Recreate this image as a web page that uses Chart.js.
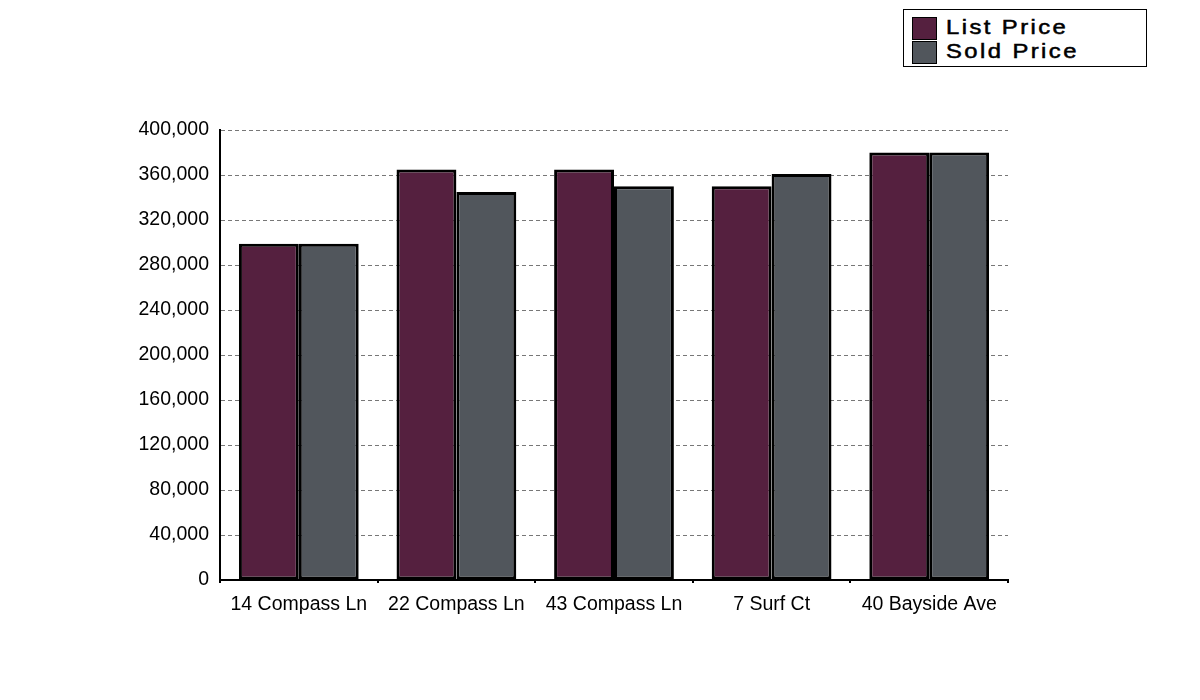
<!DOCTYPE html>
<html>
<head>
<meta charset="utf-8">
<script src="https://cdn.jsdelivr.net/npm/chart.js@4.4.1/dist/chart.umd.min.js"></script>
<style>
    html, body { margin: 0; padding: 0; background: #fff; }
    #wrap { position: relative; width: 1200px; height: 700px; }
    #legend {
        position: absolute; left: 903px; top: 9px; width: 242px; height: 56px;
        border: 1px solid #000; background: #fff;
        font-family: "Liberation Sans", Arial, sans-serif; font-size: 19.5px;
        letter-spacing: 2px; -webkit-text-stroke: 0.5px #000; color: #000;
    }
    .item { position: absolute; left: 8px; height: 22px; line-height: 22px; }
    .swatch { position: absolute; left: 0; top: 0; width: 23px; height: 21px; border: 1px solid #000; }
    .label { position: absolute; left: 34px; top: -1px; white-space: nowrap; transform: scaleX(1.22); transform-origin: left center; }
</style>
</head>
<body>
<div id="wrap">
    <canvas id="priceChart" width="1200" height="700"></canvas>
    <div id="legend"></div>
</div>
<script>
// --- Dữ liệu ---
const addresses = ['14 Compass Ln', '22 Compass Ln', '43 Compass Ln', '7 Surf Ct', '40 Bayside Ave'];
const listPrices = [299000, 365000, 365000, 350000, 380000];
const soldPrices = [299000, 345000, 350000, 361000, 380000];
const seriesNames = ['List Price', 'Sold Price'];
const seriesColors = ['#55203f', '#51565c'];

const tickFont = { family: '"Liberation Sans", Arial, sans-serif', size: 19.5 };

// --- Legend bằng HTML ---
const legendBox = document.getElementById('legend');
legendBox.innerHTML = seriesNames.map((name, i) => `
    <div class="item" style="top:${7 + i * 24}px">
        <span class="swatch" style="background:${seriesColors[i]}"></span>
        <span class="label">${name}</span>
    </div>`).join('');

// --- Biểu đồ ---
new Chart(document.getElementById('priceChart'), {
    type: 'bar',
    data: {
        labels: addresses,
        datasets: [
            {
                label: seriesNames[0],
                data: listPrices,
                backgroundColor: seriesColors[0],
                borderColor: '#000',
                borderWidth: 3,
                borderSkipped: false
            },
            {
                label: seriesNames[1],
                data: soldPrices,
                backgroundColor: seriesColors[1],
                borderColor: '#000',
                borderWidth: 3,
                borderSkipped: false
            }
        ]
    },
    options: {
        responsive: false,
        animation: false,
        locale: 'en-US',
        devicePixelRatio: 1,
        categoryPercentage: 0.76,
        barPercentage: 1,
        layout: { padding: { top: 130, right: 192, left: 0, bottom: 0 } },
        plugins: {
            legend: { display: false },
            tooltip: { enabled: false }
        },
        scales: {
            x: {
                grid: {
                    offset: true,
                    drawOnChartArea: false,
                    color: '#000',
                    lineWidth: 2,
                    tickLength: 3
                },
                border: { color: '#000', width: 2 },
                ticks: { color: '#000', font: tickFont, padding: 10, maxRotation: 0 },
                afterFit: scale => { scale.height = 120; }
            },
            y: {
                min: 0,
                max: 400000,
                ticks: { stepSize: 40000, color: '#000', font: tickFont, padding: 11 },
                grid: { color: '#777', lineWidth: 1, drawTicks: false },
                border: { color: '#000', width: 2, dash: [4, 3] },
                afterFit: scale => { scale.width = 220; }
            }
        }
    }
});
</script>
</body>
</html>
